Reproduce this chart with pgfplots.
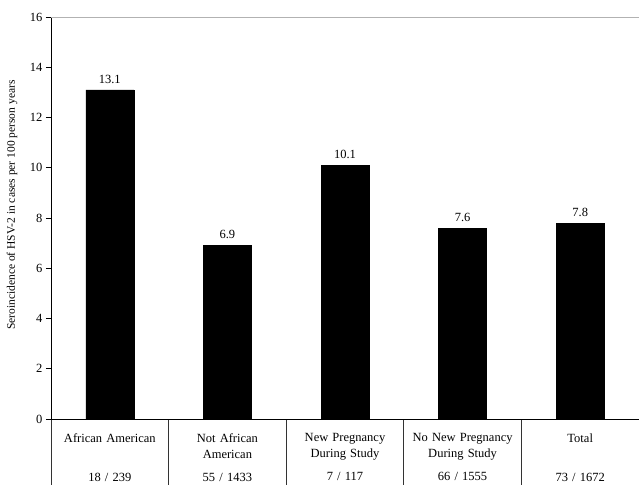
\documentclass[border=0pt]{standalone}
\usepackage{fontspec}
\setmainfont{Liberation Serif}
\usepackage{pgfplots}
\pgfplotsset{compat=1.18}
\begin{document}
\begin{tikzpicture}
\path[use as bounding box] (-51bp,-66bp) rectangle (588bp,419bp);
\begin{axis}[
  at={(0,0)}, anchor=south west,
  scale only axis, width=588bp, height=402bp,
  xmin=-0.5, xmax=4.5, ymin=0, ymax=16,
  axis x line*=bottom, axis y line*=left,
  axis line style={-, black, line width=0.8pt},
  clip=false,
  /pgf/number format/assume math mode=true,
  tick label style={font=\fontsize{12.5bp}{15bp}\selectfont},
  ytick={0,2,...,16},
  tick align=outside, major tick length=5bp,
  ytick style={black, line width=0.6pt},
  xtick={-0.5,0.5,1.5,2.5,3.5,4.5},
  x tick label as interval,
  xtick style={/pgfplots/major tick length=66bp, black!80, line width=0.7pt},
  xticklabels={
    {African American\\\strut\\[7bp]18 / 239},
    {Not African\\American\\[7bp]55 / 1433},
    {New Pregnancy\\During Study\\[7bp]7 / 117},
    {No New Pregnancy\\During Study\\[7bp]66 / 1555},
    {Total\\\strut\\[7bp]73 / 1672}},
  xticklabel style={align=center, text width=115bp, yshift=-6bp,
    font=\fontsize{12.5bp}{16bp}\selectfont},
  extra y ticks={16}, extra y tick labels={},
  extra y tick style={ymajorgrids=true, major grid style={black!30, line width=0.8pt}},
  every axis y label/.style={at={(axis description cs:-0.0663,0.532)}, rotate=90, anchor=center,
    font=\fontsize{11.5bp}{14bp}\selectfont},
  ylabel={Seroincidence of HSV-2 in cases per 100 person years},
  ybar, bar width=48bp,
  nodes near coords,
  nodes near coords style={font=\fontsize{12.5bp}{15bp}\selectfont, black, yshift=3bp,
    /pgf/number format/.cd, fixed, fixed zerofill, precision=1},
]
\addplot[fill=black, draw=black] coordinates {
  (0,13.1) (1,6.9) (2,10.1) (3,7.6) (4,7.8)
};
\end{axis}
\end{tikzpicture}
\end{document}
